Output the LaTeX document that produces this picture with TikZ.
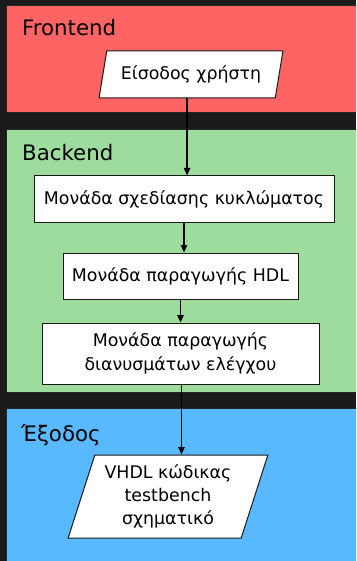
\documentclass[tikz,border=0pt]{standalone}
\usepackage{fontspec}
\setmainfont{DejaVu Sans}
\usetikzlibrary{shapes.geometric,arrows.meta}
\definecolor{bgdark}{HTML}{1A1A1A}
\definecolor{frontred}{HTML}{FF6464}
\definecolor{backgreen}{HTML}{9EDC9E}
\definecolor{outblue}{HTML}{58B9FF}
\tikzset{
  panel/.style={draw=black!85, line width=0.8pt},
  paneltitle/.style={anchor=west, inner sep=0pt, font=\fontsize{21.3}{25}\selectfont},
  procbox/.style={draw=black!90, fill=white, line width=1pt, inner sep=0pt,
    align=center, font=\fontsize{17.4}{24}\selectfont},
  iobox/.style={trapezium, trapezium left angle=70, trapezium right angle=110,
    trapezium stretches=true, draw=black!90, fill=white, line width=1pt,
    inner sep=0pt, align=center, font=\fontsize{17.4}{23}\selectfont},
  flow/.style={-{Triangle[length=7.5pt,width=6.5pt]}, line width=1.2pt}
}
\begin{document}
\begin{tikzpicture}[x=1pt, y=-1pt]
  \clip (0,0) rectangle (356,561);
  \fill[bgdark] (0,0) rectangle (356,561);

  % stage panels
  \filldraw[panel, fill=frontred] (6,5) rectangle (362,112);
  \filldraw[panel, fill=backgreen] (6,129) rectangle (362,392);
  \filldraw[panel, fill=outblue] (6,408) rectangle (362,570);

  \node[paneltitle] (tfront) at (22,28) {Frontend};
  \node[paneltitle] (tback) at (22,153) {Backend};
  \node[paneltitle] (tout) at (21,435) {Έξοδος};

  % flow nodes
  \node[iobox, minimum width=184pt, minimum height=47pt] (input) at (191,74.5) {Είσοδος χρήστη};
  \node[procbox, minimum width=300pt, minimum height=46pt] (design) at (184,199) {Μονάδα σχεδίασης κυκλώματος};
  \node[procbox, minimum width=235pt, minimum height=46pt] (hdl) at (180.5,276) {Μονάδα παραγωγής HDL};
  \node[procbox, minimum width=277pt, minimum height=61pt] (vectors) at (180.5,353.5) {Μονάδα παραγωγής\\διανυσμάτων ελέγχου};
  \node[iobox, minimum width=200pt, minimum height=83pt] (result) at (168,496.5) {VHDL κώδικας\\testbench\\σχηματικό};

  % connectors
  \draw[flow] (input.bottom side) -- (input.bottom side |- design.north);
  \draw[flow] (design.south) -- (design.south |- hdl.north);
  \draw[flow] (hdl.south) -- (vectors.north);
  \draw[flow] (result.top side |- vectors.south) -- (result.top side);
\end{tikzpicture}
\end{document}
